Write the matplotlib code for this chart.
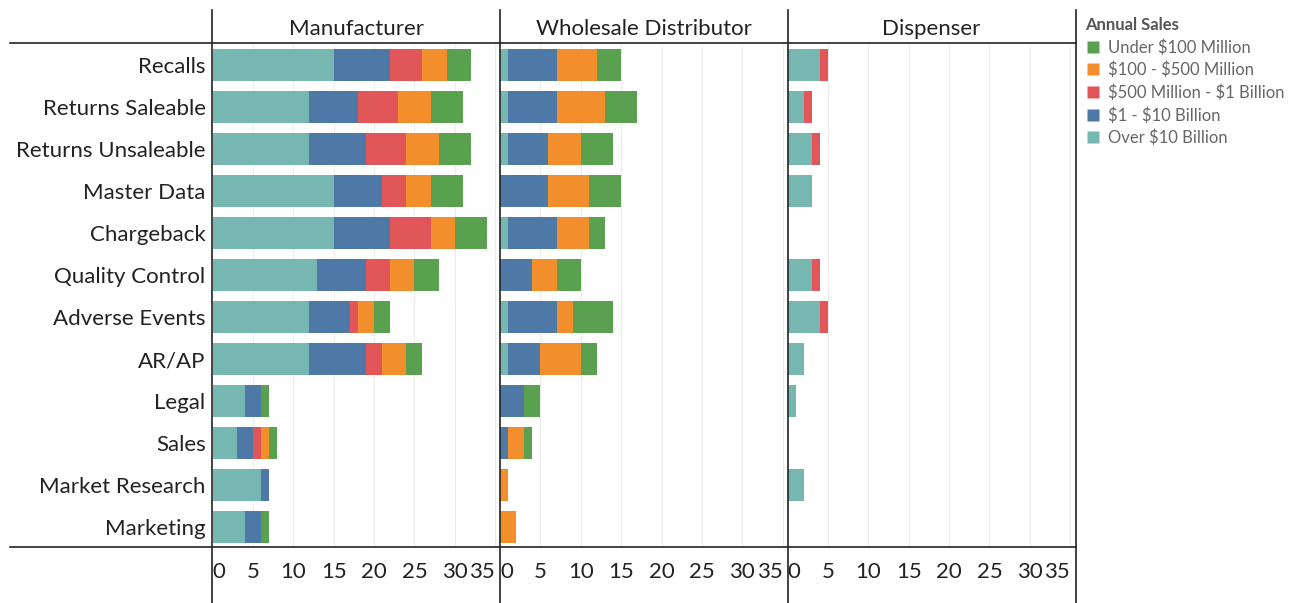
import matplotlib
matplotlib.use("Agg")
import matplotlib.pyplot as plt
from matplotlib.lines import Line2D
import numpy as np

categories = ["Recalls", "Returns Saleable", "Returns Unsaleable", "Master Data",
              "Chargeback", "Quality Control", "Adverse Events", "AR/AP", "Legal",
              "Sales", "Market Research", "Marketing"]
segments = ["Over $10 Billion", "$1 - $10 Billion", "$500 Million - $1 Billion",
            "$100 - $500 Million", "Under $100 Million"]
legend_order = ["Under $100 Million", "$100 - $500 Million", "$500 Million - $1 Billion",
                "$1 - $10 Billion", "Over $10 Billion"]
colors = {"Over $10 Billion": "#76b7b2", "$1 - $10 Billion": "#4e79a7",
          "$500 Million - $1 Billion": "#e15759", "$100 - $500 Million": "#f28e2b",
          "Under $100 Million": "#59a14f"}
panels = ["Manufacturer", "Wholesale Distributor", "Dispenser"]

# values per segment (order of categories)
manufacturer_over10b = [15, 12, 12, 15, 15, 13, 12, 12, 4, 3, 6, 4]
manufacturer_1to10b = [7, 6, 7, 6, 7, 6, 5, 7, 2, 2, 1, 2]
manufacturer_500mto1b = [4, 5, 5, 3, 5, 3, 1, 2, 0, 1, 0, 0]
manufacturer_100to500m = [3, 4, 4, 3, 3, 3, 2, 3, 0, 1, 0, 0]
manufacturer_under100m = [3, 4, 4, 4, 4, 3, 2, 2, 1, 1, 0, 1]

wholesale_over10b = [1, 1, 1, 0, 1, 0, 1, 1, 0, 0, 0, 0]
wholesale_1to10b = [6, 6, 5, 6, 6, 4, 6, 4, 3, 1, 0, 0]
wholesale_500mto1b = [0, 0, 0, 0, 0, 0, 0, 0, 0, 0, 0, 0]
wholesale_100to500m = [5, 6, 4, 5, 4, 3, 2, 5, 0, 2, 1, 2]
wholesale_under100m = [3, 4, 4, 4, 2, 3, 5, 2, 2, 1, 0, 0]

dispenser_over10b = [4, 2, 3, 3, 0, 3, 4, 2, 1, 0, 2, 0]
dispenser_1to10b = [0, 0, 0, 0, 0, 0, 0, 0, 0, 0, 0, 0]
dispenser_500mto1b = [1, 1, 1, 0, 0, 1, 1, 0, 0, 0, 0, 0]
dispenser_100to500m = [0, 0, 0, 0, 0, 0, 0, 0, 0, 0, 0, 0]
dispenser_under100m = [0, 0, 0, 0, 0, 0, 0, 0, 0, 0, 0, 0]

data = {
    "Manufacturer": [manufacturer_over10b, manufacturer_1to10b, manufacturer_500mto1b,
                     manufacturer_100to500m, manufacturer_under100m],
    "Wholesale Distributor": [wholesale_over10b, wholesale_1to10b, wholesale_500mto1b,
                              wholesale_100to500m, wholesale_under100m],
    "Dispenser": [dispenser_over10b, dispenser_1to10b, dispenser_500mto1b,
                  dispenser_100to500m, dispenser_under100m],
}
tick_values = [0, 5, 10, 15, 20, 25, 30, 35]

plt.rcParams['font.family'] = ['Lato', 'DejaVu Sans']
W, H = 1293, 603
fig = plt.figure(figsize=(W / 100, H / 100), dpi=100)

def fx(px):
    return px / W

def fy(py):
    return 1 - py / H

panel_left = [212.5, 500.0, 787.5]
panel_w = 287.5
top, bottom = 44, 548
y = np.arange(len(categories))

for i, p in enumerate(panels):
    ax = fig.add_axes([fx(panel_left[i]), fy(bottom), fx(panel_w), (bottom - top) / H])
    left = np.zeros(len(categories))
    for s, vals in zip(segments, data[p]):
        vals = np.array(vals, dtype=float)
        ax.barh(y, vals, left=left, height=0.75, color=colors[s], edgecolor='none', zorder=2)
        left += vals
    ax.set_xlim(0, 35.6)
    ax.set_ylim(len(categories) - 0.5, -0.5)
    for t in tick_values[1:]:
        ax.axvline(t, color="#ececec", lw=0.8, zorder=1)
    for sp in ax.spines.values():
        sp.set_visible(False)
    ax.set_xticks(tick_values)
    ax.set_xticklabels([str(t) for t in tick_values], fontsize=16, color="#222222")
    ax.tick_params(axis='x', length=0, pad=10)
    xl = ax.get_xticklabels()
    xl[0].set_ha('left')
    xl[-1].set_ha('right')
    if i == 0:
        ax.set_yticks(y)
        ax.set_yticklabels(categories, fontsize=16, color="#222222")
        ax.tick_params(axis='y', length=0, pad=5)
    else:
        ax.set_yticks([])
    # header
    fig.text(fx(panel_left[i] + panel_w / 2), fy(29), p, ha='center', va='center',
             fontsize=16, color="#222222")

# frame lines
for xv in [212, 500, 788, 1076]:
    fig.add_artist(Line2D([fx(xv), fx(xv)], [fy(10), fy(603)], color="#222222", lw=1.2))
for yv in [43, 547]:
    fig.add_artist(Line2D([fx(10), fx(1076)], [fy(yv), fy(yv)], color="#222222", lw=1.2))

# legend
handles = [Line2D([], [], marker='s', linestyle='none', markersize=8.5,
                  markerfacecolor=colors[s], markeredgecolor='none') for s in legend_order]
labels = [s.replace("$", r"\$") for s in legend_order]
leg = fig.legend(handles, labels, loc='upper left', bbox_to_anchor=(fx(1085), fy(17)),
                 frameon=False, title="Annual Sales", fontsize=12, handlelength=0.9,
                 handletextpad=0.5, labelspacing=0.37, borderaxespad=0, borderpad=0)
leg._legend_box.align = 'left'
leg.get_title().set_fontsize(12)
leg.get_title().set_fontweight('bold')
leg.get_title().set_color("#555555")
for t in leg.get_texts():
    t.set_color("#666666")

fig.savefig("out.png", dpi=100)
